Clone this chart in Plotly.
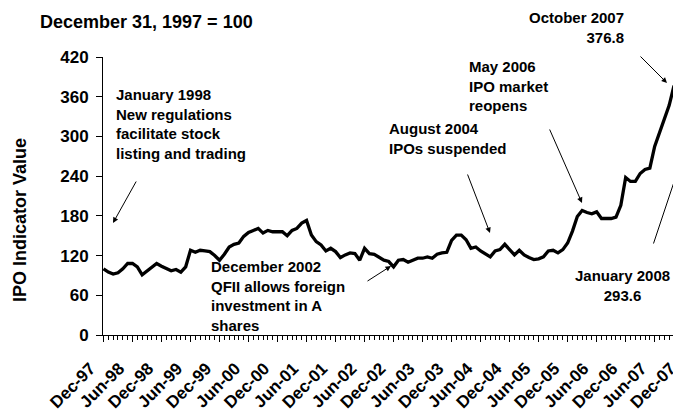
import plotly.graph_objects as go

# Monthly IPO indicator values, Dec-97 ... Jan-08 (Dec 31, 1997 = 100)
ipo_index = [
    100, 95, 92, 94, 100, 108, 108, 103, 91, 97, 102, 108,
    104, 101, 97, 99, 95, 103, 128, 125, 128, 127, 126, 120,
    113, 122, 133, 137, 139, 149, 155, 158, 161, 154, 158, 156,
    156, 156, 150, 158, 161, 169, 173, 151, 141, 136, 127, 131,
    126, 117, 121, 124, 123, 113, 131, 123, 122, 118, 113, 111,
    103, 113, 114, 110, 113, 116, 116, 118, 116, 122, 124, 125,
    143, 151, 151, 144, 131, 133, 127, 122, 118, 127, 129, 137,
    129, 121, 128, 121, 117, 114, 115, 118, 127, 128, 124, 129,
    139, 157, 179, 188, 185, 183, 186, 176, 176, 176, 178, 196,
    238, 232, 232, 244, 250, 252, 285, 305, 327, 347, 376.8, 328,
    322, 293.6,
]
month_index = list(range(len(ipo_index)))

tick_labels = ["Dec-97", "Jun-98", "Dec-98", "Jun-99", "Dec-99", "Jun-00",
               "Dec-00", "Jun-01", "Dec-01", "Jun-02", "Dec-02", "Jun-03",
               "Dec-03", "Jun-04", "Dec-04", "Jun-05", "Dec-05", "Jun-06",
               "Dec-06", "Jun-07", "Dec-07"]
tick_positions = month_index[::6]

y_ticks = [0, 60, 120, 180, 240, 300, 360, 420]

# page offset of the figure inside the browser window (default body margin)
OFF = 8
W, H = 681, 412
L, R, T, B = 95, 0, 49, 85
PW, PH = W - L - R, H - T - B

FONT = "Liberation Sans, Arial, sans-serif"


def px(x):
    return (x - OFF - L) / PW


def py(y):
    return (H - B - (y - OFF)) / PH


fig = go.Figure()
fig.add_trace(go.Scatter(
    x=month_index, y=ipo_index, mode="lines",
    line=dict(color="black", width=3.3), showlegend=False,
    hoverinfo="skip",
))

annotations = []


def text_ann(text, x, y, xanchor="left", align="left", size=15):
    annotations.append(dict(
        text=text, xref="paper", yref="paper", x=px(x), y=py(y),
        xanchor=xanchor, yanchor="middle", align=align, showarrow=False,
        font=dict(family=FONT, size=size, color="black", weight="bold"),
    ))


def arrow(x0, y0, x1, y1):
    annotations.append(dict(
        text="", xref="paper", yref="paper", x=px(x1), y=py(y1),
        axref="pixel", ayref="pixel", ax=x0 - x1, ay=y0 - y1,
        showarrow=True, arrowhead=2, arrowsize=1.1, arrowwidth=1,
        arrowcolor="black", standoff=0, startstandoff=0,
    ))


text_ann("January 1998<br>New regulations<br>facilitate stock<br>listing and trading", 114, 124)
arrow(137, 180, 113, 223)

text_ann("December 2002<br>QFII allows foreign<br>investment in A<br>shares", 209, 296)
arrow(366, 282, 391, 266)

text_ann("August 2004<br>IPOs suspended", 387, 138)
arrow(467, 173, 490, 233)

text_ann("May 2006<br>IPO market<br>reopens", 467, 86)
arrow(549, 128, 582, 203)

text_ann("October 2007<br>376.8", 626, 27, xanchor="right", align="right")
arrow(639, 55, 667, 83)

text_ann("January 2008<br>293.6", 622, 285, xanchor="center", align="center")
arrow(653, 245, 688, 140)

annotations.append(dict(
    text="December 31, 1997 = 100", xref="paper", yref="paper",
    x=px(38), y=py(22), xanchor="left", yanchor="middle", showarrow=False,
    font=dict(family=FONT, size=18, color="black", weight="bold"),
))
annotations.append(dict(
    text="IPO Indicator Value", xref="paper", yref="paper",
    x=px(20), y=py(220), xanchor="center", yanchor="middle", showarrow=False,
    textangle=-90,
    font=dict(family=FONT, size=18, color="black", weight="bold"),
))

fig.update_layout(
    width=W, height=H,
    margin=dict(l=L, r=R, t=T, b=B, autoexpand=False),
    paper_bgcolor="white", plot_bgcolor="white",
    annotations=annotations,
    xaxis=dict(
        range=[-0.1, 121.1], showgrid=False, zeroline=False,
        showline=True, linecolor="black", linewidth=1,
        ticks="outside", ticklen=6, tickcolor="black", tickwidth=1,
        tickvals=tick_positions, ticktext=tick_labels, tickangle=-45,
        ticklabelshift=-13, ticklabelstandoff=10,
        tickfont=dict(family=FONT, size=17, color="black", weight="bold"),
        minor=dict(dtick=1, tick0=0, ticks="outside", ticklen=4,
                   tickcolor="black", tickwidth=1, showgrid=False),
    ),
    yaxis=dict(
        range=[0, 420], tickvals=y_ticks, showgrid=False, zeroline=False,
        showline=True, linecolor="black", linewidth=1,
        ticks="outside", ticklen=6, tickcolor="black", tickwidth=1,
        ticklabelstandoff=4,
        tickfont=dict(family=FONT, size=17, color="black", weight="bold"),
    ),
)

fig.write_html("out.html")
